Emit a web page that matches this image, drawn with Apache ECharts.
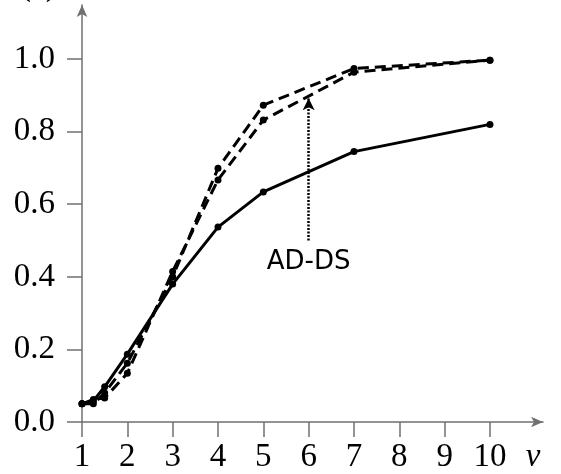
<!DOCTYPE html>
<html>
<head>
<meta charset="utf-8">
<script src="https://cdn.jsdelivr.net/npm/echarts@6/dist/echarts.min.js"></script>
<style>html,body{margin:0;padding:0;background:#fff}#c{width:561px;height:474px}</style>
</head>
<body>
<div id="c"></div>
<script>
// x positions of the samples
const xValues = [1, 1.25, 1.5, 2, 3, 4, 5, 7, 10];
// series values
const solidValues  = [0.05, 0.058, 0.097, 0.187, 0.38, 0.537, 0.634, 0.745, 0.82];
const dashedA      = [0.05, 0.05, 0.08, 0.162, 0.40, 0.699, 0.873, 0.974, 0.997];
const dashedB      = [0.05, 0.062, 0.066, 0.134, 0.415, 0.667, 0.832, 0.964, 0.997];
// tick labels
const xTicks = [1, 2, 3, 4, 5, 6, 7, 8, 9, 10];
const yTicks = [0, 0.2, 0.4, 0.6, 0.8, 1.0];
const xAxisName = 'v';
// annotation
const arrowX = 6, arrowFrom = 0.5, arrowTo = 0.892;
const arrowLabel = 'AD-DS';
const panelLabel = '(a)';

const pairs = ys => xValues.map((x, i) => [x, ys[i]]);
const serif = 'Liberation Serif';
const axisColor = '#707070';

const chart = echarts.init(document.getElementById('c'), null, {renderer: 'canvas'});
const lineBase = {
  type: 'line', symbol: 'circle', symbolSize: 7, color: '#000',
  itemStyle: {color: '#000'}, animation: false, z: 3
};
chart.setOption({
  backgroundColor: '#fff',
  animation: false,
  grid: {left: 82, right: 18, top: 5, bottom: 52},
  xAxis: {
    type: 'value', min: 1, max: 11.17,
    axisLine: {show: true, symbol: ['none', 'arrow'], symbolSize: [8, 12], lineStyle: {color: axisColor, width: 1.5}},
    axisTick: {show: true, length: 15, inside: false, customValues: xTicks, lineStyle: {color: axisColor, width: 1.5}},
    axisLabel: {
      customValues: xTicks.concat([10.95]), margin: 19,
      fontFamily: serif, fontSize: 33, color: '#000',
      formatter: v => v === 10.95 ? '{i|' + xAxisName + '}' : String(v),
      rich: {i: {fontFamily: serif, fontStyle: 'italic', fontSize: 33, color: '#000'}}
    },
    splitLine: {show: false}
  },
  yAxis: {
    type: 'value', min: 0, max: 1.149,
    axisLine: {show: true, symbol: ['none', 'arrow'], symbolSize: [8, 12], lineStyle: {color: axisColor, width: 1.5}},
    axisTick: {show: true, length: 15, customValues: yTicks, lineStyle: {color: axisColor, width: 1.5}},
    axisLabel: {
      customValues: yTicks, margin: 27,
      fontFamily: serif, fontSize: 33, color: '#000',
      formatter: v => v.toFixed(1)
    },
    splitLine: {show: false}
  },
  graphic: [{
    type: 'text', left: 20, top: -30,
    style: {text: panelLabel, font: '33px "Liberation Serif"', fill: '#000'}
  }],
  series: [
    Object.assign({}, lineBase, {
      data: pairs(solidValues),
      lineStyle: {color: '#000', width: 3, type: 'solid'}
    }),
    Object.assign({}, lineBase, {
      data: pairs(dashedA),
      lineStyle: {color: '#000', width: 3, type: [11, 6]}
    }),
    Object.assign({}, lineBase, {
      data: pairs(dashedB),
      lineStyle: {color: '#000', width: 3, type: [11, 6]},
      markLine: {
        silent: true, animation: false,
        symbol: ['none', 'arrow'], symbolSize: [9, 12],
        lineStyle: {color: '#000', width: 2.5, type: [2, 1.5]},
        label: {
          show: true, position: 'start', distance: 9,
          formatter: arrowLabel, fontFamily: 'DejaVu Sans', fontSize: 26, color: '#000'
        },
        data: [[{coord: [arrowX, arrowFrom]}, {coord: [arrowX, arrowTo]}]]
      }
    })
  ]
});
</script>
</body>
</html>
